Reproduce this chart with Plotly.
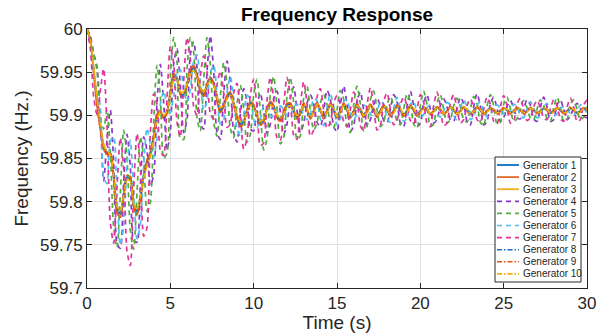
import plotly.graph_objects as go

# ---------------- data ----------------
TIME_S = [round(0.2 * i, 1) for i in range(151)]  # 0 .. 30 s sampling grid

# common response shared by the solid / dash-dot generators (Hz)
BASE_HZ = [
    60.000, 59.987, 59.952, 59.916, 59.888,
    59.864, 59.857, 59.856, 59.830, 59.792,
    59.786, 59.808, 59.828, 59.826, 59.795,
    59.789, 59.805, 59.830, 59.845, 59.855,
    59.875, 59.898, 59.904, 59.898, 59.904,
    59.925, 59.945, 59.942, 59.925, 59.924,
    59.935, 59.950, 59.955, 59.945, 59.930,
    59.924, 59.935, 59.942, 59.936, 59.920,
    59.906, 59.911, 59.921, 59.925, 59.914,
    59.899, 59.890, 59.893, 59.905, 59.914,
    59.910, 59.900, 59.891, 59.894, 59.907,
    59.914, 59.910, 59.898, 59.895, 59.902,
    59.912, 59.912, 59.905, 59.898, 59.902,
    59.912, 59.906, 59.898, 59.905, 59.913,
    59.906, 59.898, 59.905, 59.912, 59.906,
    59.899, 59.905, 59.912, 59.906, 59.899,
    59.905, 59.911, 59.906, 59.900, 59.905,
    59.911, 59.906, 59.900, 59.905, 59.910,
    59.906, 59.901, 59.905, 59.910, 59.906,
    59.901, 59.905, 59.910, 59.906, 59.901,
    59.905, 59.909, 59.906, 59.902, 59.905,
    59.909, 59.906, 59.902, 59.905, 59.909,
    59.906, 59.902, 59.905, 59.909, 59.906,
    59.902, 59.905, 59.909, 59.906, 59.902,
    59.905, 59.908, 59.906, 59.903, 59.905,
    59.908, 59.906, 59.903, 59.905, 59.908,
    59.906, 59.903, 59.905, 59.908, 59.906,
    59.903, 59.905, 59.908, 59.906, 59.903,
    59.905, 59.908, 59.906, 59.903, 59.905,
    59.908, 59.906, 59.903, 59.905, 59.908,
    59.906,
]

# per-generator deviations from the common response (mHz)
ORANGE_DEV_MHZ = [
    0, 0, -2, -4, -4,   -3, -2, 0, -2, -4,   -4, -2, 2, 3, -1,   -4, -3, 0, 3, 2,
    2, 3, 1, -2, -1,    2, 3, 2, -1, -2,     1, 3, 3, 1, -2,     -2, 1, 2, 1, -2,
    -3, -1, 2, 2, 0,    -2, -3, -2, 1, 2,    2, 0, -2, -2, 1,    2, 1, -1, -2, 0,
    2, 2, 0, -2, 0,     2, 0, -2, 0, 2,      0, -2, 0, 2, 0,     -2, 0, 2, 0, -2,
    0, 2, 0, -2, 0,     2, 0, -2, 0, 2,      0, -2, 0, 2, 0,     -2, 0, 2, 0, -2,
    0, 1, 0, -1, 0,     1, 0, -1, 0, 1,      0, -1, 0, 1, 0,     -1, 0, 1, 0, -1,
    0, 1, 0, -1, 0,     1, 0, -1, 0, 1,      0, -1, 0, 1, 0,     -1, 0, 1, 0, -1,
    0, 1, 0, -1, 0,     1, 0, -1, 0, 1,
    0,
]
YELLOW_DEV_MHZ = [
    0, 1, 3, 4, 3,      2, 1, -1, 0, 3,      3, 0, -3, -2, 2,    3, 1, -2, -3, -2,
    -3, -3, 0, 2, 1,    -2, -3, 0, 2, 3,     1, -2, -3, 0, 2,    3, 0, -2, -1, 2,
    3, 1, -2, -2, 0,    2, 3, 1, -1, -2,     -2, 1, 2, 2, -1,    -2, -1, 2, 2, 0,
    -2, -1, 1, 2, 1,    0, 2, 0, -2, 0,      2, 0, -2, 0, 2,     0, -2, 0, 2, 0,
    -2, 0, 2, 0, -2,    0, 2, 0, -2, 0,      2, 0, -2, 0, 2,     0, -2, 0, 2, 0,
    -2, 0, 1, 0, -1,    0, 1, 0, -1, 0,      1, 0, -1, 0, 1,     0, -1, 0, 1, 0,
    -1, 0, 1, 0, -1,    0, 1, 0, -1, 0,      1, 0, -1, 0, 1,     0, -1, 0, 1, 0,
    -1, 0, 1, 0, -1,    0, 1, 0, -1, 0,
    1,
]
GEN4_DEV_MHZ = [
    0, 5, 20, 40, 10,     -40, 15, 50, 15, -40,   -40, 15, 50, 15, -40,   -36, 14, 45, 14, -36,
    -44, 17, 55, 17, -44, -44, 15, 35, 10, -44,   -40, 20, 30, 10, -40,   -40, 15, 50, 15, -40,
    -34, 13, 42, 13, -34, -30, 11, 38, 11, -30,   -28, 11, 35, 11, -28,   -24, 9, 30, 9, -24,
    -22, 8, 28, 8, -22,   -21, 8, 26, 8, -21,     -19, 7, 24, 7, -19,     -18, 7, 22, 7, -18,
    -17, 6, 21, 6, -17,   -16, 6, 20, 6, -16,     -15, 6, 19, 6, -15,     -14, 5, 18, 5, -14,
    -14, 5, 18, 5, -14,   -14, 5, 17, 5, -14,     -13, 5, 16, 5, -13,     -13, 5, 16, 5, -13,
    -12, 5, 15, 5, -12,   -11, 4, 14, 4, -11,     -10, 4, 13, 4, -10,     -10, 4, 13, 4, -10,
    -10, 4, 12, 4, -10,   -9, 3, 11, 3, -9,
    -9,
]
GEN5_DEV_MHZ = [
    0, 0, 20, 35, 10,     20, 50, 0, -60, -45,    23, 75, 23, -60, -50,   21, 70, 21, -56, -56,
    18, 60, 18, -48, -48, 20, 45, 20, -52, -52,   18, 40, 18, -48, -48,   17, 55, 17, -44, -44,
    15, 50, 15, -40, -40, 14, 45, 14, -36, -36,   13, 42, 13, -34, -34,   11, 35, 11, -28, -28,
    10, 32, 10, -26, -26, 8, 28, 8, -22, -22,     8, 26, 8, -21, -21,     7, 24, 7, -19, -19,
    7, 23, 7, -18, -18,   7, 22, 7, -18, -18,     6, 21, 6, -17, -17,     6, 20, 6, -16, -16,
    6, 19, 6, -15, -15,   5, 18, 5, -14, -14,     5, 18, 5, -14, -14,     5, 17, 5, -14, -14,
    5, 16, 5, -13, -13,   5, 15, 5, -12, -12,     4, 14, 4, -11, -11,     4, 13, 4, -10, -10,
    4, 13, 4, -10, -10,   4, 12, 4, -10, -10,
    4,
]
GEN6_DEV_MHZ = [
    0, -5, -10, 10, 20,   -36, -36, 14, 45, 14,   -36, -36, 14, 45, 14,   -32, -32, 12, 40, 12,
    -24, -24, 9, 30, 9,   -22, -22, 8, 28, 8,     -20, -20, 8, 25, 8,     -18, -18, 7, 22, 7,
    -16, -16, 6, 20, 6,   -14, -14, 5, 18, 5,     -14, -14, 5, 17, 5,     -13, -13, 5, 16, 5,
    -12, -12, 5, 15, 5,   -11, -11, 4, 14, 4,     -10, -10, 4, 13, 4,     -10, -10, 4, 12, 4,
    -10, -10, 4, 12, 4,   -9, -9, 3, 11, 3,       -9, -9, 3, 11, 3,       -8, -8, 3, 10, 3,
    -8, -8, 3, 10, 3,     -8, -8, 3, 10, 3,       -7, -7, 3, 9, 3,        -7, -7, 3, 9, 3,
    -7, -7, 3, 9, 3,      -6, -6, 2, 8, 2,        -6, -6, 2, 8, 2,        -6, -6, 2, 8, 2,
    -6, -6, 2, 7, 2,      -6, -6, 2, 7, 2,
    -6,
]
GEN7_DEV_MHZ = [
    0, -10, -30, -15, 40,  90, 30, -80, -78, 25,   88, 30, -85, -100, 20,  90, 35, -70, -75, 25,
    50, 15, -45, -45, 15,  55, 15, -50, -50, 15,   55, 15, -45, -45, 15,   45, 15, -40, -40, 15,
    45, 15, -35, -35, 12,  38, 12, -32, -32, 10,   32, 10, -26, -26, 10,   30, 9, -24, -24, 9,
    32, 10, -28, -26, 9,   27, 8, -22, -22, 8,     25, 8, -20, -20, 8,     24, 7, -19, -19, 7,
    22, 7, -18, -18, 7,    21, 6, -17, -17, 6,     20, 6, -16, -16, 6,     20, 6, -16, -16, 6,
    19, 6, -15, -15, 6,    18, 5, -14, -14, 5,     18, 5, -14, -14, 5,     17, 5, -14, -14, 5,
    16, 5, -13, -13, 5,    15, 5, -12, -12, 5,     14, 4, -11, -11, 4,     14, 4, -11, -11, 4,
    13, 4, -10, -10, 4,    12, 4, -10, -10, 4,
    12,
]
ZERO_DEV_MHZ = [0] * 151

GENERATOR_NAMES = ["Generator %d" % k for k in range(1, 11)]
GENERATOR_DEVS = [ZERO_DEV_MHZ, ORANGE_DEV_MHZ, YELLOW_DEV_MHZ, GEN4_DEV_MHZ, GEN5_DEV_MHZ,
                  GEN6_DEV_MHZ, GEN7_DEV_MHZ, ZERO_DEV_MHZ, ORANGE_DEV_MHZ, YELLOW_DEV_MHZ]

X_TICKS = [0, 5, 10, 15, 20, 25, 30]
Y_TICKS = [59.7, 59.75, 59.8, 59.85, 59.9, 59.95, 60.0]
Y_TICK_TEXT = ["59.7", "59.75", "59.8", "59.85", "59.9", "59.95", "60"]

# ---------------- styles ----------------
COLORS = ["#0A6FC2", "#DF6A2A", "#EDB120", "#8B35C9", "#52AE3A",
          "#4DBEEE", "#E0359A", "#1A6FC4", "#E8550F", "#F5B000"]
DASHES = ["solid", "solid", "solid", "5px,4px", "5px,4px", "5px,4px", "5px,4px",
          "5px,2px,1.5px,2px", "5px,2px,1.5px,2px", "5px,2px,1.5px,2px"]
WIDTHS = [1.8, 1.8, 1.8, 1.7, 1.7, 1.7, 1.7, 1.6, 1.6, 1.6]

FONT = "Liberation Sans, Arial, Helvetica, sans-serif"
TXT = "#262626"

fig = go.Figure()
for name, dev, col, dash, w in zip(GENERATOR_NAMES, GENERATOR_DEVS, COLORS, DASHES, WIDTHS):
    assert len(dev) == len(BASE_HZ) == len(TIME_S)
    yvals = [round(b + d / 1000.0, 4) for b, d in zip(BASE_HZ, dev)]
    fig.add_trace(go.Scatter(x=TIME_S, y=yvals, mode="lines", name=name,
                             line=dict(color=col, width=w, dash=dash,
                                       shape="spline", smoothing=0.7),
                             showlegend=False))

# ---------------- layout ----------------
L, R, T, B = 87, 22, 29, 45
W, H = 609, 333
PW, PH = W - L - R, H - T - B

def px_x(px):
    return (px - L) / PW

def px_y(py):
    return (H - B - py) / PH

fig.update_layout(
    width=W, height=H,
    margin=dict(l=L, r=R, t=T, b=B, pad=0, autoexpand=False),
    paper_bgcolor="white", plot_bgcolor="white",
    font=dict(family=FONT, size=17, color=TXT),
    title=dict(text="<b>Frequency Response</b>", x=0.5, xref="paper", xanchor="center",
               y=1 - 14 / H, yref="container", yanchor="middle",
               font=dict(family=FONT, size=19, color="#000000")),
    xaxis=dict(range=[0, 30], tickvals=X_TICKS, ticktext=[str(v) for v in X_TICKS],
               automargin=False,
               showgrid=True, gridcolor="#DFDFDF", gridwidth=1, zeroline=False,
               showline=True, linecolor=TXT, linewidth=1, mirror="ticks",
               ticks="inside", ticklen=5, tickcolor=TXT, tickwidth=1,
               tickfont=dict(size=17, color=TXT),
               title=dict(text="Time (s)", font=dict(size=19, color=TXT), standoff=0)),
    yaxis=dict(range=[59.7, 60.0], tickvals=Y_TICKS, ticktext=Y_TICK_TEXT,
               automargin=False,
               showgrid=True, gridcolor="#DFDFDF", gridwidth=1, zeroline=False,
               showline=True, linecolor=TXT, linewidth=1, mirror="ticks",
               ticks="inside", ticklen=5, tickcolor=TXT, tickwidth=1,
               tickfont=dict(size=17, color=TXT),
               title=dict(text="Frequency (Hz.)", font=dict(size=19, color=TXT), standoff=6)),
)

# ---------------- legend box (drawn inside the axes, MATLAB style) ----------------
LEG_LEFT, LEG_RIGHT, LEG_TOP, LEG_BOTTOM = 495, 581, 157, 282
fig.add_shape(type="rect", xref="paper", yref="paper",
              x0=px_x(LEG_LEFT), x1=px_x(LEG_RIGHT), y0=px_y(LEG_BOTTOM), y1=px_y(LEG_TOP),
              line=dict(color=TXT, width=1), fillcolor="white", layer="above")
for j, (name, col, dash, w) in enumerate(zip(GENERATOR_NAMES, COLORS, DASHES, WIDTHS)):
    cy = px_y(165 + 12.1 * j)
    fig.add_shape(type="line", xref="paper", yref="paper",
                  x0=px_x(497), x1=px_x(519), y0=cy, y1=cy,
                  line=dict(color=col, width=w, dash=dash), layer="above")
    fig.add_annotation(text=name, xref="paper", yref="paper", x=px_x(520.5), y=cy,
                       xanchor="left", yanchor="middle", showarrow=False,
                       font=dict(family=FONT, size=10, color=TXT))

# the page body has a default 8px margin; remove it so the figure fills the window exactly
fig.write_html("out.html",
               config={"displayModeBar": False},
               post_script="document.body.style.margin='0';document.body.style.padding='0';")
